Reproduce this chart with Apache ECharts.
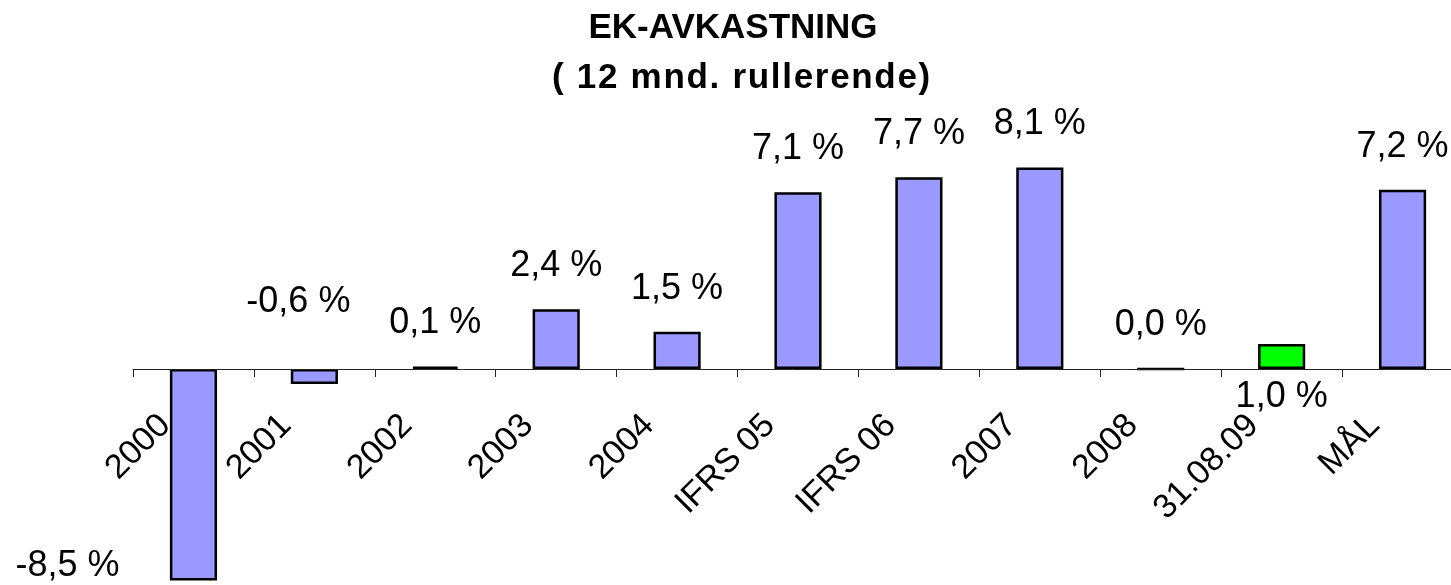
<!DOCTYPE html>
<html><head><meta charset="utf-8">
<script src="https://cdn.jsdelivr.net/npm/echarts@6/dist/echarts.min.js"></script>
<style>html,body{margin:0;padding:0;background:#fff}#c{width:1451px;height:585px}</style>
</head><body><div id="c"></div>
<script>
// ---- data ----
const categories = ['2000', '2001', '2002', '2003', '2004', 'IFRS 05', 'IFRS 06', '2007', '2008', '31.08.09', 'MÅL'];
const values = [-8.5, -0.6, 0.1, 2.4, 1.5, 7.1, 7.7, 8.1, 0.0, 1.0, 7.2];
const titleLine1 = 'EK-AVKASTNING';
const titleLine2 = '( 12 mnd. rullerende)';
const highlightCategory = '31.08.09';

// ---- styles ----
const FONT = '"Liberation Sans", Arial, sans-serif';
const barColor = '#9999FF';
const highlightColor = '#00FF00';
const labelOverrides = {
  '2000': { position: 'insideBottom', distance: -4, offset: [-126, 0] },
  '2001': { position: 'top', distance: 49, offset: [-16, 0] },
  '31.08.09': { position: 'bottom', distance: 10 }
};

const fmt = v => v.toFixed(1).replace('.', ',') + ' %';

const data = values.map((v, i) => {
  const cat = categories[i];
  const item = { value: v };
  if (cat === highlightCategory) item.itemStyle = { color: highlightColor };
  if (labelOverrides[cat]) item.label = labelOverrides[cat];
  return item;
});

// second title line drawn with a little extra letter spacing
const spaced = Array.from(titleLine2).map(c => '{s|' + c + '}').join('');

const chart = echarts.init(document.getElementById('c'), null, { renderer: 'canvas' });
chart.setOption({
  animation: false,
  backgroundColor: '#fff',
  title: [
    { text: titleLine1, left: 728, top: 6, textAlign: 'center',
      textStyle: { fontFamily: FONT, fontSize: 35, fontWeight: 'bold', color: '#000' } },
    { text: spaced, left: 737, top: 56, textAlign: 'center',
      textStyle: { fontFamily: FONT, fontSize: 35, fontWeight: 'bold', color: '#000',
        rich: { s: { fontFamily: FONT, fontSize: 35, fontWeight: 'bold', color: '#000', padding: [0, 1.7, 0, 0] } } } }
  ],
  // grid bottom sits on the zero line; negative bars extend below it (clip off)
  grid: { left: 133, top: 145, width: 1330, height: 224, containLabel: false, outerBoundsMode: 'none' },
  xAxis: {
    type: 'category',
    data: categories,
    boundaryGap: true,
    z: 3,
    axisLine: { onZero: false, lineStyle: { color: '#222', width: 1 } },
    axisTick: { show: true, length: 8, alignWithLabel: false, lineStyle: { color: '#222' } },
    axisLabel: {
      interval: 0, rotate: 45, margin: 23, padding: [0, 40, 0, 0],
      fontFamily: FONT, fontSize: 34, color: '#000'
    },
    splitLine: { show: false }
  },
  yAxis: {
    type: 'value', min: 0, max: 9, show: false, splitLine: { show: false }
  },
  series: [{
    type: 'bar',
    data: data,
    clip: false,
    barWidth: '39%',
    itemStyle: { color: barColor, borderColor: '#000', borderWidth: 2.5 },
    label: {
      show: true, position: 'top', distance: 25,
      fontFamily: FONT, fontSize: 36, color: '#000',
      formatter: p => fmt(p.value)
    }
  }]
});
</script></body></html>
